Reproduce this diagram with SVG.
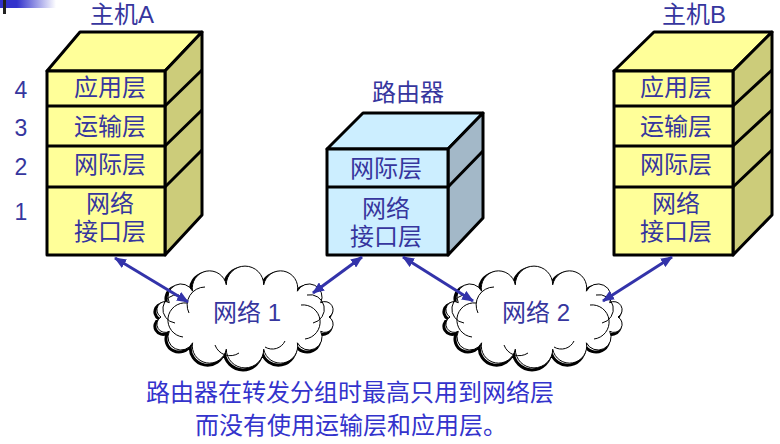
<svg xmlns="http://www.w3.org/2000/svg" width="780" height="444" viewBox="0 0 780 444">
<defs>
<linearGradient id="bar" x1="0" x2="1" y1="0" y2="0">
<stop offset="0" stop-color="#3333cc"/>
<stop offset="0.3" stop-color="#3333cc"/>
<stop offset="1" stop-color="#ffffff"/>
</linearGradient>
<marker id="ah" viewBox="0 0 12 10" refX="11" refY="5" markerWidth="12" markerHeight="10" markerUnits="userSpaceOnUse" orient="auto-start-reverse">
<path d="M0,0 L12,5 L0,10 Z" fill="#3333aa"/>
</marker>
<path id="cloud" d="M84,0 A1,1 0 0 1 75.7,14.3 A1,1 0 0 1 52.4,25.8 A1,1 0 0 1 18.7,32.2 A1,1 0 0 1 -18.7,32.2 A1,1 0 0 1 -52.4,25.8 A1,1 0 0 1 -75.7,14.3 A1,1 0 0 1 -84,0 A1,1 0 0 1 -75.7,-14.3 A1,1 0 0 1 -52.4,-25.8 A1,1 0 0 1 -18.7,-32.2 A1,1 0 0 1 18.7,-32.2 A1,1 0 0 1 52.4,-25.8 A1,1 0 0 1 75.7,-14.3 A1,1 0 0 1 84,0 Z"/>
<g id="cloudShape">
<use href="#cloud" transform="translate(-2,2)" fill="none" stroke="#000" stroke-width="3"/>
<use href="#cloud" fill="#fff" stroke="#000" stroke-width="1"/>
<path d="M-66,-22 A14,14 0 0 0 -70,6 M-58,-14 A16,16 0 0 0 -62,20 M-40,-30 A18,18 0 0 0 -56,-4 M62,-22 A14,14 0 0 1 68,6 M56,-12 A16,16 0 0 1 60,22 M-30,28 A16,16 0 0 0 -6,36 M20,30 A14,14 0 0 0 40,24" fill="none" stroke="#000" stroke-width="1"/>
</g>
</defs>
<style>
.edge{stroke:#000;stroke-width:3;stroke-linejoin:round}
.hostF{fill:#ffff99}
.hostS{fill:#cccc7a}
.rtF{fill:#cceeff}
.rtS{fill:#a3b8c8}
.lt{font-family:"Liberation Sans","Noto Sans CJK SC",sans-serif;font-size:24px;fill:#36369e;text-anchor:middle;dominant-baseline:central}
.num{font-family:"Liberation Sans","Noto Sans CJK SC",sans-serif;font-size:23px;fill:#36369e;text-anchor:middle;dominant-baseline:central}
.cap{font-family:"Liberation Sans","Noto Sans CJK SC",sans-serif;font-size:24px;fill:#3333cc;text-anchor:middle;dominant-baseline:central}
.conn{stroke:#3333aa;stroke-width:3;fill:none;marker-start:url(#ah);marker-end:url(#ah)}
</style>
<rect width="780" height="444" fill="#fff"/>
<rect x="0" y="0" width="56" height="8" fill="url(#bar)"/>
<rect x="3" y="0" width="3" height="14" fill="#222"/>

<g id="hostA">
<text class="lt" x="122" y="14">主机A</text>
<polygon class="hostF edge" points="47,71 165,71 202,32 80,32"/>
<polygon class="hostS edge" points="165,71 202,32 202,215 165,255"/>
<rect class="hostF edge" x="47" y="71" width="118" height="184"/>
<path class="edge" d="M47,106 H165 L202,70 M47,146 H165 L202,110 M47,187 H165 L202,150" fill="none"/>
<text class="lt" x="110" y="87">应用层</text>
<text class="lt" x="110" y="126">运输层</text>
<text class="lt" x="110" y="164">网际层</text>
<text class="lt" x="110" y="203">网络</text>
<text class="lt" x="110" y="231">接口层</text>
<text class="num" x="21" y="90">4</text>
<text class="num" x="21" y="128">3</text>
<text class="num" x="21" y="167">2</text>
<text class="num" x="21" y="212">1</text>
</g>

<g id="router">
<text class="lt" x="408" y="92">路由器</text>
<polygon class="rtF edge" points="327,149 448,149 483,113 363,113"/>
<polygon class="rtS edge" points="448,149 483,113 483,218 448,255"/>
<rect class="rtF edge" x="327" y="149" width="121" height="106"/>
<path class="edge" d="M327,187 H448 L483,151" fill="none"/>
<text class="lt" x="386" y="168">网际层</text>
<text class="lt" x="386" y="208">网络</text>
<text class="lt" x="386" y="236">接口层</text>
</g>

<g id="hostB">
<text class="lt" x="694" y="14">主机B</text>
<polygon class="hostF edge" points="614,71 733,71 772,32 654,32"/>
<polygon class="hostS edge" points="733,71 772,32 772,215 733,255"/>
<rect class="hostF edge" x="614" y="71" width="119" height="184"/>
<path class="edge" d="M614,106 H733 L772,70 M614,146 H733 L772,110 M614,187 H733 L772,150" fill="none"/>
<text class="lt" x="676" y="87">应用层</text>
<text class="lt" x="676" y="126">运输层</text>
<text class="lt" x="676" y="164">网际层</text>
<text class="lt" x="676" y="203">网络</text>
<text class="lt" x="676" y="231">接口层</text>
</g>

<g id="net1">
<use href="#cloudShape" transform="translate(245,317)"/>
<text class="lt" x="247" y="312">网络 1</text>
</g>
<g id="net2">
<use href="#cloudShape" transform="translate(534,317)"/>
<text class="lt" x="536" y="312">网络 2</text>
</g>

<g id="connectors">
<line class="conn" x1="115" y1="258" x2="188" y2="302"/>
<line class="conn" x1="362" y1="257" x2="313" y2="293"/>
<line class="conn" x1="403" y1="257" x2="473" y2="301"/>
<line class="conn" x1="672" y1="257" x2="603" y2="301"/>
</g>

<g id="caption">
<text class="cap" x="350" y="392">路由器在转发分组时最高只用到网络层</text>
<text class="cap" x="351" y="425">而没有使用运输层和应用层。</text>
</g>
</svg>
